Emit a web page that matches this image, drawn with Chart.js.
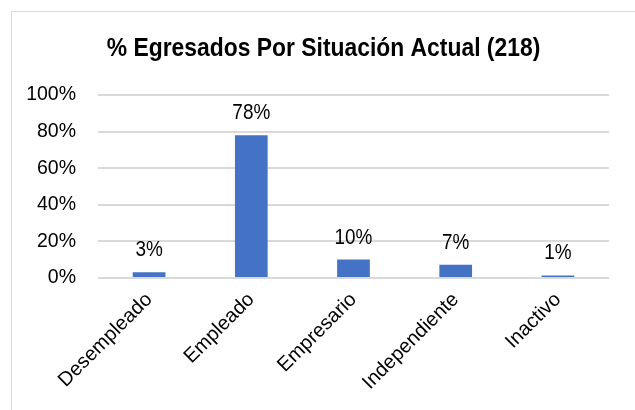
<!DOCTYPE html>
<html>
<head>
<meta charset="utf-8">
<script src="https://cdn.jsdelivr.net/npm/chart.js@4/dist/chart.umd.min.js"></script>
<style>
  html, body { margin: 0; padding: 0; background: #fff; }
  #wrap { position: relative; width: 635px; height: 410px; overflow: hidden; }
  #frame { position: absolute; left: 11px; top: 11px; width: 640px; height: 420px; border: 1px solid #d9d9d9; }
  canvas { position: absolute; left: 0; top: 0; }
</style>
</head>
<body>
<div id="wrap">
  <div id="frame"></div>
  <canvas id="chart" width="635" height="410"></canvas>
</div>
<script>
const title = '% Egresados Por Situación Actual (218)';
const categories = ['Desempleado', 'Empleado', 'Empresario', 'Independiente', 'Inactivo'];
const percentages = [3.2, 78.0, 10.1, 7.3, 1.4];
const yTicks = [0, 20, 40, 60, 80, 100];

const FONT = '"Liberation Sans", Arial, sans-serif';

// the original uses a narrow face, so squeeze the text a bit
function narrowText (ctx, text, x, y, font, sx) {
  ctx.save();
  ctx.font = font;
  ctx.translate(x, y);
  ctx.scale(sx, 1);
  ctx.fillText(text, 0, 0);
  ctx.restore();
}

const textLayer = {
  id: 'textLayer',
  afterDatasetsDraw (chart) {
    const ctx = chart.ctx;
    ctx.save();
    ctx.fillStyle = '#000';
    ctx.textAlign = 'center';
    ctx.textBaseline = 'alphabetic';
    // title is centred on the whole frame, not the plot area
    narrowText(ctx, title, chart.width / 2 + 6, 56, 'bold 26px ' + FONT, 0.88);
    chart.getDatasetMeta(0).data.forEach((bar, i) => {
      narrowText(ctx, Math.round(percentages[i]) + '%', bar.x, bar.y - 16, '22px ' + FONT, 0.86);
    });
    ctx.restore();
  }
};

new Chart(document.getElementById('chart'), {
  type: 'bar',
  data: {
    labels: categories,
    datasets: [{
      data: percentages,
      backgroundColor: '#4472C4',
      barPercentage: 0.32,
      categoryPercentage: 1
    }]
  },
  plugins: [textLayer],
  options: {
    responsive: false,
    animation: false,
    layout: { padding: { left: 0, right: 26, top: 95, bottom: 0 } },
    plugins: {
      legend: { display: false },
      tooltip: { enabled: false },
      title: { display: false }
    },
    scales: {
      x: {
        grid: { display: false },
        border: { display: false },
        ticks: {
          color: '#000',
          font: { family: FONT, size: 20 },
          minRotation: 45,
          maxRotation: 45,
          padding: 2
        },
        afterFit (scale) { scale.height = 132; }
      },
      y: {
        min: 0,
        max: 100,
        afterBuildTicks (scale) { scale.ticks = yTicks.map(v => ({ value: v })); },
        grid: { color: '#d9d9d9', lineWidth: 2, drawTicks: false },
        border: { display: false },
        ticks: {
          color: '#000',
          font: { family: FONT, size: 19.5 },
          padding: 22,
          callback: v => v + '%'
        },
        afterFit (scale) { scale.width = 98; }
      }
    }
  }
});
</script>
</body>
</html>
